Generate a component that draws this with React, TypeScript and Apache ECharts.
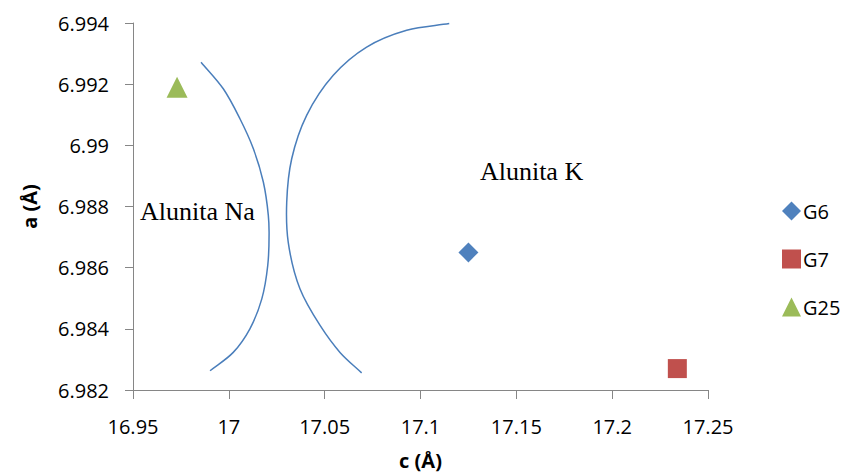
import React, { useEffect, useRef } from "react";
import * as echarts from "echarts";

const g6: [number, number][] = [[17.125, 6.9865]];
const g7: [number, number][] = [[17.234, 6.9827]];
const g25: [number, number][] = [[16.973, 6.9919]];

const curveNa: [number, number][] = [
  [16.9855, 6.99272],
  [16.9971, 6.99185],
  [17.0058, 6.99087],
  [17.0128, 6.98989],
  [17.018, 6.9888],
  [17.0206, 6.98771],
  [17.021, 6.98716],
  [17.0203, 6.98607],
  [17.0172, 6.98498],
  [17.011, 6.984],
  [17.0023, 6.98323],
  [16.9902, 6.98263],
];

const curveK: [number, number][] = [
  [17.115, 6.99398],
  [17.0928, 6.99376],
  [17.0719, 6.99321],
  [17.0545, 6.99229],
  [17.0406, 6.99098],
  [17.0328, 6.98956],
  [17.0302, 6.98814],
  [17.031, 6.98683],
  [17.0371, 6.98531],
  [17.0476, 6.98411],
  [17.058, 6.98323],
  [17.0693, 6.98256],
];

const annotations = [
  { name: "Alunita Na", value: [16.9537, 6.98784] },
  { name: "Alunita K", value: [17.131, 6.98915] },
];

const xTicks = { min: 16.95, max: 17.25, interval: 0.05 };
const yTicks = { min: 6.982, max: 6.994, interval: 0.002 };

const SANS = "'Open Sans', 'Noto Sans', sans-serif";
const SERIF = "'Liberation Serif', 'DejaVu Serif', serif";
const AXIS_COLOR = "#868686";
const CURVE_COLOR = "#4A7EBB";

function splineSeries(name: string, pts: [number, number][]) {
  return {
    type: "custom",
    name,
    data: pts,
    silent: true,
    clip: false,
    renderItem: (params: any, api: any) => {
      if (params.dataIndex !== 0) return null;
      const p = pts.map((v) => api.coord(v) as number[]);
      const n = p.length;
      const ext = [
        [2 * p[0][0] - p[1][0], 2 * p[0][1] - p[1][1]],
        ...p,
        [2 * p[n - 1][0] - p[n - 2][0], 2 * p[n - 1][1] - p[n - 2][1]],
      ];
      const dist = (a: number[], b: number[]) =>
        Math.max(1e-6, Math.sqrt(Math.hypot(a[0] - b[0], a[1] - b[1])));
      let d = `M${p[0][0]},${p[0][1]}`;
      for (let i = 1; i < ext.length - 2; i++) {
        const P0 = ext[i - 1];
        const P1 = ext[i];
        const P2 = ext[i + 1];
        const P3 = ext[i + 2];
        const d1 = dist(P0, P1);
        const d2 = dist(P1, P2);
        const d3 = dist(P2, P3);
        const c1 = [0, 1].map(
          (k) =>
            (d1 * d1 * P2[k] - d2 * d2 * P0[k] + (2 * d1 * d1 + 3 * d1 * d2 + d2 * d2) * P1[k]) /
            (3 * d1 * (d1 + d2))
        );
        const c2 = [0, 1].map(
          (k) =>
            (d3 * d3 * P1[k] - d2 * d2 * P3[k] + (2 * d3 * d3 + 3 * d3 * d2 + d2 * d2) * P2[k]) /
            (3 * d3 * (d3 + d2))
        );
        d += ` C${c1[0]},${c1[1]} ${c2[0]},${c2[1]} ${P2[0]},${P2[1]}`;
      }
      return {
        type: "path",
        shape: { pathData: d },
        style: { stroke: CURVE_COLOR, lineWidth: 1.5, fill: "none" },
      };
    },
  };
}

export default function App() {
  const ref = useRef<HTMLDivElement>(null);
  useEffect(() => {
    if (!ref.current) return;
    const chart = echarts.init(ref.current, null, { renderer: "svg" });
    chart.setOption({
      animation: false,
      backgroundColor: "#ffffff",
      grid: { left: 133, right: 139, top: 23, bottom: 85, containLabel: false },
      legend: {
        orient: "vertical",
        left: 777,
        top: 196,
        itemWidth: 19,
        itemHeight: 19,
        itemGap: 28,
        data: [
          { name: "G6", icon: "diamond" },
          { name: "G7", icon: "rect" },
          { name: "G25", icon: "triangle" },
        ],
        textStyle: { fontFamily: SANS, fontSize: 20, color: "#000", padding: [0, 0, 0, -3] },
      },
      xAxis: {
        type: "value",
        min: xTicks.min,
        max: xTicks.max,
        interval: xTicks.interval,
        name: "c (Å)",
        nameLocation: "middle",
        nameGap: 60,
        nameTextStyle: { fontFamily: SANS, fontSize: 20, fontWeight: "bold", color: "#000" },
        axisLine: { show: true, lineStyle: { color: AXIS_COLOR, width: 1 } },
        axisTick: { show: true, inside: false, length: 9, lineStyle: { color: AXIS_COLOR } },
        axisLabel: {
          margin: 26,
          fontFamily: SANS,
          fontSize: 20,
          color: "#000",
          formatter: (v: number) => String(parseFloat(v.toFixed(2))),
        },
        splitLine: { show: false },
      },
      yAxis: {
        type: "value",
        min: yTicks.min,
        max: yTicks.max,
        interval: yTicks.interval,
        name: "a (Å)",
        nameLocation: "middle",
        nameGap: 94,
        nameTextStyle: { fontFamily: SANS, fontSize: 20, fontWeight: "bold", color: "#000" },
        axisLine: { show: true, lineStyle: { color: AXIS_COLOR, width: 1 } },
        axisTick: { show: true, inside: false, length: 8, lineStyle: { color: AXIS_COLOR } },
        axisLabel: {
          margin: 24,
          fontFamily: SANS,
          fontSize: 20,
          color: "#000",
          formatter: (v: number) => String(parseFloat(v.toFixed(3))),
        },
        splitLine: { show: false },
      },
      series: [
        splineSeries("curveNa", curveNa),
        splineSeries("curveK", curveK),
        {
          type: "scatter",
          name: "G6",
          data: g6,
          symbol: "diamond",
          symbolSize: 20,
          itemStyle: { color: "#4F81BD", opacity: 1 },
        },
        {
          type: "scatter",
          name: "G7",
          data: g7,
          symbol: "rect",
          symbolSize: 19,
          itemStyle: { color: "#C0504D", opacity: 1 },
        },
        {
          type: "scatter",
          name: "G25",
          data: g25,
          symbol: "triangle",
          symbolSize: 21,
          itemStyle: { color: "#9BBB59", opacity: 1 },
        },
        {
          type: "scatter",
          name: "annotations",
          data: annotations,
          symbolSize: 0,
          silent: true,
          itemStyle: { opacity: 1 },
          label: {
            show: true,
            position: "right",
            distance: 0,
            formatter: "{b}",
            fontFamily: SERIF,
            fontSize: 26,
            color: "#000",
          },
        },
      ],
    });
    return () => chart.dispose();
  }, []);
  return (
    <div
      ref={ref}
      style={{ position: "fixed", left: 0, top: 0, width: 847, height: 475, background: "#fff" }}
    />
  );
}
